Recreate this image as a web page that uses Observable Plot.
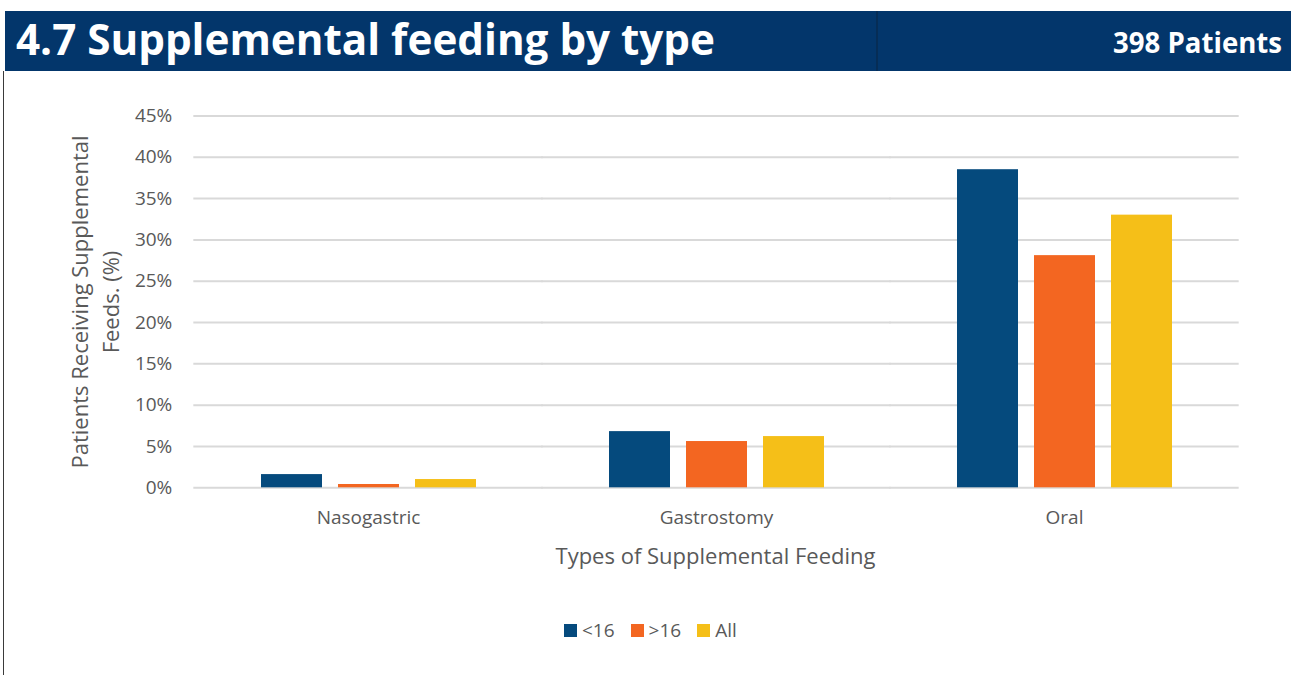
<!DOCTYPE html>
<html>
<head>
<meta charset="utf-8">
<script src="https://cdn.jsdelivr.net/npm/d3@7"></script>
<script src="https://cdn.jsdelivr.net/npm/@observablehq/plot@0.6"></script>
<style>
  html, body { margin: 0; padding: 0; background: #fff; }
  body { width: 1291px; height: 675px; position: relative; overflow: hidden; font-family: "Open Sans", sans-serif; }
  #header { position: absolute; left: 0; top: 0; }
  #border { position: absolute; left: 3px; top: 71px; width: 1px; height: 604px; background: #3a3a3a; }
  #chart { position: absolute; left: 0; top: 80px; }
  #ylabel { position: absolute; width: 420px; left: -115px; top: 271px; text-align: center;
            font-size: 22px; line-height: 31px; color: #595959; transform: rotate(-90deg); transform-origin: 50% 50%; }
  #xlabel { position: absolute; left: 0; width: 1431px; top: 540px; text-align: center; font-size: 22px; color: #595959; }
  #legend { position: absolute; left: 564px; top: 617px; display: flex; align-items: center; font-size: 19px; color: #595959; }
  #legend .item { display: flex; align-items: center; margin-right: 16px; }
  #legend .sw { width: 13px; height: 13px; margin-right: 5px; }
</style>
</head>
<body>
<svg id="header" width="1291" height="71">
  <rect x="5" y="11" width="1286" height="60" fill="#03366b"></rect>
  <line x1="877" x2="877" y1="11" y2="71" stroke="#0b2542" stroke-width="1"></line>
  <text x="16" y="55" fill="#fff" font-family="Open Sans" font-weight="700" font-size="43" textLength="699" lengthAdjust="spacingAndGlyphs">4.7 Supplemental feeding by type</text>
  <text x="1282" y="53" fill="#fff" font-family="Open Sans" font-weight="700" font-size="29" text-anchor="end" textLength="169" lengthAdjust="spacingAndGlyphs">398 Patients</text>
</svg>
<div id="border"></div>
<div id="chart"></div>
<div id="ylabel">Patients Receiving Supplemental<br>Feeds. (%)</div>
<div id="xlabel">Types of Supplemental Feeding</div>
<div id="legend"></div>
<script>
const categories = ["Nasogastric", "Gastrostomy", "Oral"];
const groups = ["<16", ">16", "All"];
const colors = ["#054a7d", "#f36621", "#f5bf18"];
const under16 = [1.6, 6.8, 38.5];
const over16 = [0.4, 5.6, 28.1];
const allPatients = [1.0, 6.2, 33.0];
const yTicks = [0, 5, 10, 15, 20, 25, 30, 35, 40, 45];

const series = [under16, over16, allPatients];
const table = [];
categories.forEach((c, i) => {
  groups.forEach((g, j) => table.push({category: c, group: g, value: series[j][i]}));
});

// fx band geometry: gaps between facet bands are half-filled by each rule's negative inset
const W = 1291 - 193 - 53;
const pInner = 0.38, pOuter = 0.19;
const step = W / (categories.length - pInner + 2 * pOuter);
const ext = (step * pInner) / 2 + 0.5;
const outer = step * pOuter; // distance from frame left to first facet band

const chart = Plot.plot({
  width: 1291,
  height: 500,
  marginLeft: 193,
  marginRight: 53,
  marginTop: 35.5,
  marginBottom: 92.7,
  style: {fontFamily: "Open Sans", fontSize: "19px", color: "#595959", background: "transparent"},
  fx: {domain: categories, paddingInner: pInner, paddingOuter: pOuter, label: null},
  x: {domain: groups, paddingInner: 0.213, paddingOuter: 0, axis: null},
  y: {domain: [0, 45], label: null},
  color: {domain: groups, range: colors},
  marks: [
    Plot.ruleY(yTicks, {stroke: "#d9d9d9", strokeWidth: 2, insetLeft: -ext, insetRight: -ext}),
    Plot.barY(table, {fx: "category", x: "group", y: "value", fill: "group"}),
    Plot.axisY({ticks: yTicks, tickFormat: d => d + "%", tickSize: 0, tickPadding: 22 + outer, label: null, fill: "#595959", fontSize: 19}),
    Plot.axisFx({anchor: "bottom", tickSize: 0, tickPadding: 23, label: null, fill: "#595959", fontSize: 19})
  ]
});
document.getElementById("chart").appendChild(chart);

const legend = document.getElementById("legend");
groups.forEach((g, i) => {
  const item = document.createElement("div");
  item.className = "item";
  const sw = document.createElement("div");
  sw.className = "sw";
  sw.style.background = colors[i];
  const t = document.createElement("span");
  t.textContent = g;
  item.appendChild(sw);
  item.appendChild(t);
  legend.appendChild(item);
});
</script>
</body>
</html>
